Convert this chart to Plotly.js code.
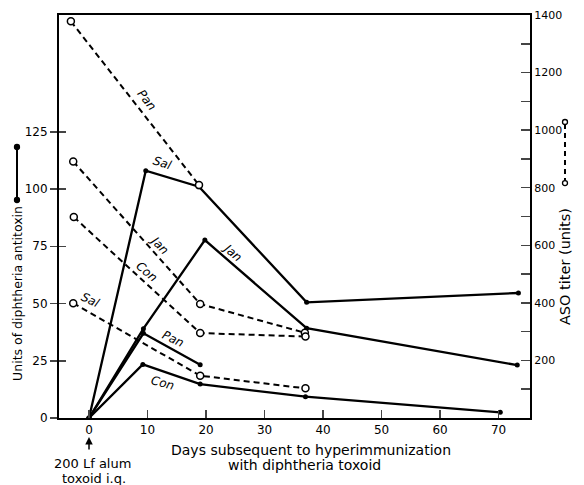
<!DOCTYPE html>
<html><head><meta charset="utf-8">
<script src="https://cdn.plot.ly/plotly-3.0.1.min.js"></script>
<style>body{margin:0;background:#fff}#chart{width:584px;height:485px}</style>
</head><body><div id="chart"></div>
<script>
// Diphtheria antitoxin (left axis, solid lines)
const salDays = [0, 9.7, 18.8, 37.2, 73.4];
const salAntitoxin = [0, 108, 101, 50.5, 54.6];
const janDays = [0, 9.3, 19.8, 37.2, 73.2];
const janAntitoxin = [0, 39, 77.7, 39.2, 23.1];
const panDays = [0, 9.3, 19];
const panAntitoxin = [0, 37, 23.3];
const conDays = [0, 9.2, 19, 37, 70.3];
const conAntitoxin = [0, 23.4, 14.8, 9.3, 2.5];

// ASO titer (right axis, dashed lines)
const panAsoDays = [-3.1, 18.8];
const panAso = [1378, 809];
const janAsoDays = [-2.7, 19, 36.9];
const janAso = [891, 396, 296];
const conAsoDays = [-2.6, 19, 37];
const conAso = [698, 295, 283];
const salAsoDays = [-2.7, 19, 37];
const salAso = [399, 147, 103];

const xTicks = [0, 10, 20, 30, 40, 50, 60, 70];
const leftTicks = [0, 25, 50, 75, 100, 125];
const rightTicks = [200, 400, 600, 800, 1000, 1200, 1400];

const FONT = 'DejaVu Sans, sans-serif';
const solid = (x, y, name) => ({x, y, name, type: 'scatter', mode: 'lines+markers', yaxis: 'y',
  line: {color: '#000', width: 2.3}, marker: {color: '#000', size: 5}, showlegend: false});
const dashed = (x, y, name) => ({x, y, name, type: 'scatter', mode: 'lines+markers', yaxis: 'y2',
  line: {color: '#000', width: 2, dash: '6px,4px'},
  marker: {color: '#fff', size: 7, line: {color: '#000', width: 1.5}}, showlegend: false});

const data = [
  solid(salDays, salAntitoxin, 'Sal'),
  solid(janDays, janAntitoxin, 'Jan'),
  solid(panDays, panAntitoxin, 'Pan'),
  solid(conDays, conAntitoxin, 'Con'),
  dashed(panAsoDays, panAso, 'Pan ASO'),
  dashed(janAsoDays, janAso, 'Jan ASO'),
  dashed(conAsoDays, conAso, 'Con ASO'),
  dashed(salAsoDays, salAso, 'Sal ASO'),
  {x: [], y: [], yaxis: 'y3', type: 'scatter', showlegend: false}
];

const lab = (text, x, y, angle) => ({text, x, y, xref: 'x', yref: 'y', textangle: angle, showarrow: false,
  xanchor: 'center', yanchor: 'middle',
  font: {family: FONT, size: 12, style: 'italic', color: '#000'}});
const note = (text, x, y, size, angle, xref) => ({text, x, y, xref: xref || 'paper', yref: 'paper',
  textangle: angle || 0, showarrow: false, xanchor: 'center', yanchor: 'middle', font: {size}});

// key symbols beside the axis titles (paper coordinates)
const dot = (x, y, fill) => ({type: 'circle', xref: 'paper', yref: 'paper', xsizemode: 'pixel', ysizemode: 'pixel',
  xanchor: x, yanchor: y, x0: -2.5, x1: 2.5, y0: -2.5, y1: 2.5, fillcolor: fill, line: {color: '#000', width: 1.3}});
const LX = -0.0892, RX = 1.0743;
const shapes = [
  {type: 'line', xref: 'paper', yref: 'paper', x0: LX, x1: LX, y0: 0.541, y1: 0.6725, line: {color: '#000', width: 2}},
  dot(LX, 0.541, '#000'), dot(LX, 0.6725, '#000'),
  {type: 'line', xref: 'paper', yref: 'paper', x0: RX, x1: RX, y0: 0.583, y1: 0.7345, line: {color: '#000', width: 2, dash: '5px,4px'}},
  dot(RX, 0.583, '#fff'), dot(RX, 0.7345, '#fff')
];

const layout = {
  width: 584, height: 485,
  margin: {l: 59, r: 54, t: 15, b: 67},
  paper_bgcolor: '#fff', plot_bgcolor: '#fff',
  font: {family: FONT, size: 12, color: '#000'},
  xaxis: {range: [-5.13, 75.38], tickvals: xTicks, ticks: 'inside', ticklen: 8, tickwidth: 1.5,
    showline: true, linewidth: 2, linecolor: '#000', mirror: true, showgrid: false, zeroline: false,
    tickfont: {size: 12}},
  yaxis: {range: [0, 176], tickvals: leftTicks, ticks: 'outside', ticklen: 7, tickwidth: 1.5,
    showline: true, linewidth: 2, linecolor: '#000', showgrid: false, zeroline: false,
    tickfont: {size: 12}},
  yaxis3: {range: [0, 176], tickvals: leftTicks, ticks: 'inside', ticklen: 7, tickwidth: 1.5,
    overlaying: 'y', side: 'left', showticklabels: false, showline: false, showgrid: false, zeroline: false},
  yaxis2: {range: [0, 1400], tickvals: rightTicks, overlaying: 'y', side: 'right', ticks: 'inside',
    ticklen: 9, tickwidth: 1.5, minor: {dtick: 100, ticks: 'inside', ticklen: 9, tickwidth: 1.5},
    showline: true, linewidth: 2, linecolor: '#000', showgrid: false, zeroline: false,
    tickfont: {size: 11}},
  shapes,
  annotations: [
    note('Units of diphtheria antitoxin', -0.087, 0.308, 12.5, -90),
    note('ASO titer (units)', RX, 0.377, 14.5, -90),
    note('Days subsequent to hyperimmunization', 0.535, -0.08, 14),
    note('with diphtheria toxoid', 0.522, -0.117, 14),
    {text: '', x: 0, xref: 'x', yref: 'paper', y: -0.047, showarrow: true, arrowhead: 2, arrowsize: 1,
      arrowwidth: 1.5, ax: 0, ay: 14, arrowcolor: '#000'},
    note('200 Lf alum', 0.6, -0.112, 13, 0, 'x'),
    note('toxoid i.q.', 0.8, -0.149, 13, 0, 'x'),
    lab('Pan', 9.9, 139, 52),
    lab('Sal', 12.5, 111.4, 18),
    lab('Jan', 12.0, 75.5, 45),
    lab('Con', 9.9, 63.8, 40),
    lab('Jan', 24.6, 72.1, 40),
    lab('Sal', 0.2, 51.5, 25),
    lab('Pan', 14.4, 34.5, 25),
    lab('Con', 12.6, 15.3, 15)
  ]
};

Plotly.newPlot('chart', data, layout, {displayModeBar: false, staticPlot: true});
</script></body></html>
